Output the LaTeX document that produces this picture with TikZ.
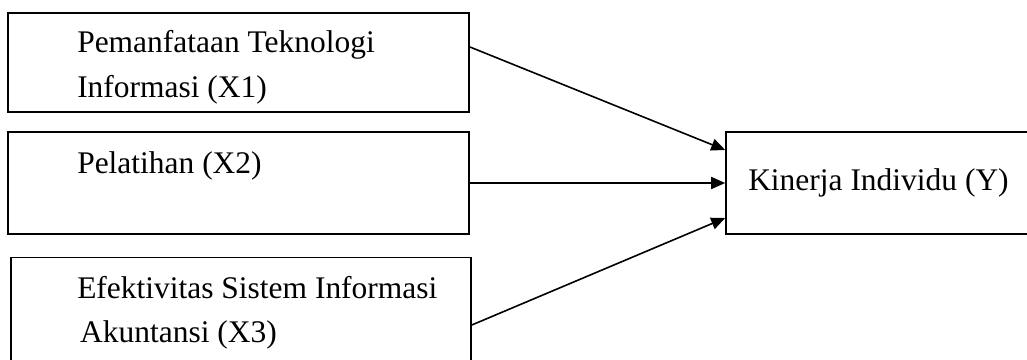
\documentclass[tikz,border=0pt]{standalone}
\usepackage{fontspec}
\setmainfont{Liberation Serif}
\usetikzlibrary{arrows.meta}
\begin{document}
\begin{tikzpicture}[x=0.75pt,y=-0.75pt]
    \tikzset{varbox/.style={draw,line width=1.2pt,rectangle,inner sep=0pt},
             varlbl/.style={anchor=base west,inner sep=0pt,align=left,font=\fontsize{23.6}{33}\selectfont},
             link/.style={line width=1.2pt,-{Triangle[length=10.5pt,width=9pt]}}}
    \useasboundingbox (0,0) rectangle (1027,360);
    \clip (0,0) rectangle (1027,360);
    % variabel bebas
    \node[varbox,minimum width=346pt,minimum height=74pt] (x1) at (238.5,62.5) {};
    \node[varbox,minimum width=346pt,minimum height=76.5pt] (x2) at (238.5,183) {};
    \node[varbox,minimum width=345pt,minimum height=80pt] (x3) at (241,311) {};
    % variabel terikat
    \node[varbox,minimum width=228pt,minimum height=76.5pt] (y) at (878,183) {};
    \node[varlbl] (x1t) at (77,97) {Pemanfataan Teknologi\\Informasi (X1)};
    \node[varlbl] (x2t) at (77,173) {Pelatihan (X2)};
    \node[varlbl] (x3t) at (77,342) {Efektivitas Sistem Informasi\\\hspace{2.2pt}Akuntansi (X3)};
    \node[varlbl] (yt) at (748,190) {Kinerja Individu (Y)};
    \draw[link] (x1.east |- 0,47) -- (y.west |- 0,150);
    \draw[link] (x2.east) -- (y.west);
    \draw[link] (x3.east |- 0,325) -- (y.west |- 0,218);
\end{tikzpicture}
\end{document}
